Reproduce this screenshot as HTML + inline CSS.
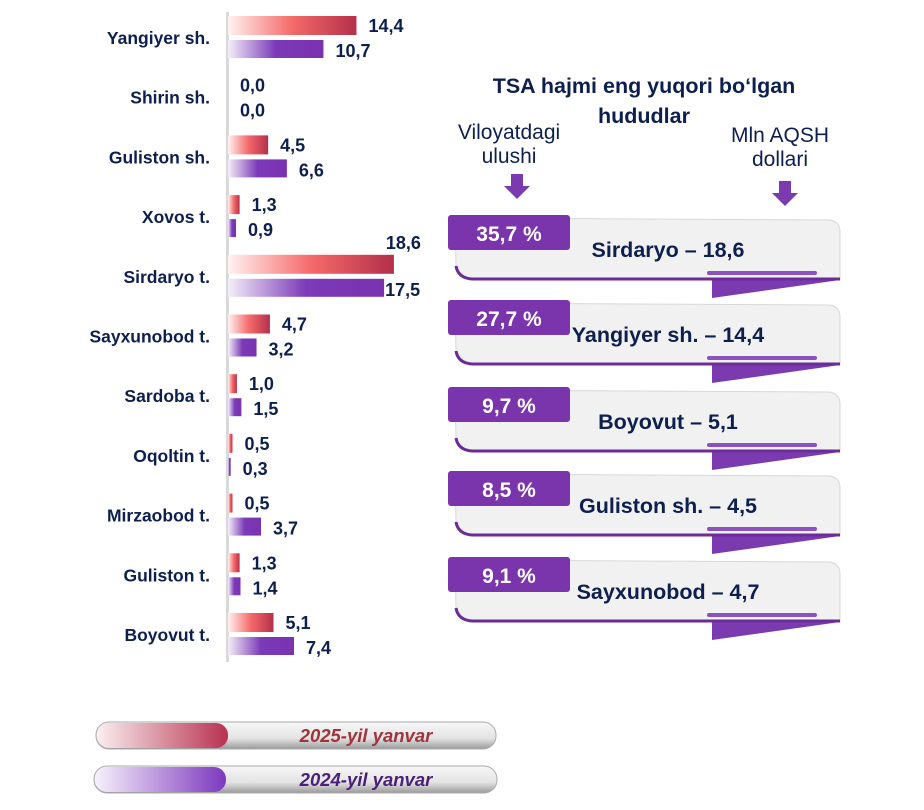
<!DOCTYPE html>
<html><head><meta charset="utf-8">
<style>
body{margin:0;background:#fff;width:924px;height:805px;overflow:hidden;font-family:"Liberation Sans",sans-serif}
svg text{font-family:"Liberation Sans",sans-serif}
</style></head>
<body>
<svg id="chart" width="924" height="805" xmlns="http://www.w3.org/2000/svg">
<defs>
<linearGradient id="gr" x1="0" x2="1"><stop offset="0" stop-color="#fff2f0"/><stop offset="0.5" stop-color="#f56a6a"/><stop offset="1" stop-color="#b3304a"/></linearGradient>
<linearGradient id="gp" x1="0" x2="1"><stop offset="0" stop-color="#f4eef8"/><stop offset="0.5" stop-color="#7b3ab8"/><stop offset="1" stop-color="#7a32b0"/></linearGradient>
<linearGradient id="lr" x1="0" x2="1"><stop offset="0" stop-color="#fbeef0"/><stop offset="1" stop-color="#b83250"/></linearGradient>
<linearGradient id="lp" x1="0" x2="1"><stop offset="0" stop-color="#f6f0fb"/><stop offset="1" stop-color="#7d38bf"/></linearGradient>
<linearGradient id="pill" x1="0" y1="0" x2="0" y2="1"><stop offset="0" stop-color="#f7f7f7"/><stop offset="0.6" stop-color="#e4e4e4"/><stop offset="1" stop-color="#9a9a9a"/></linearGradient>
</defs>
<rect x="226" y="12" width="3" height="650" fill="#d9d9d9"/>
<g id="bars"></g>
<text x="644" y="93" text-anchor="middle" font-size="21.5" font-weight="bold" fill="#0d1f4f">TSA hajmi eng yuqori bo‘lgan</text>
<text x="644" y="123" text-anchor="middle" font-size="21.5" font-weight="bold" fill="#0d1f4f">hududlar</text>
<text x="509" y="139" text-anchor="middle" font-size="21" fill="#0d1f4f">Viloyatdagi</text>
<text x="509" y="163" text-anchor="middle" font-size="21" fill="#0d1f4f">ulushi</text>
<text x="780" y="142" text-anchor="middle" font-size="21" fill="#0d1f4f">Mln AQSH</text>
<text x="780" y="166" text-anchor="middle" font-size="21" fill="#0d1f4f">dollari</text>
<path d="M511 174h12v12h7l-13 13-13-13h7z" fill="#7b3ab0"/>
<path d="M779 181h12v12h7l-13 13-13-13h7z" fill="#7b3ab0"/>
<g id="cards"></g>
<g>
<rect x="96" y="722" width="400" height="27" rx="13" fill="url(#pill)" stroke="#aaa"/>
<rect x="97" y="723" width="131" height="25" rx="12" fill="url(#lr)"/>
<text x="366" y="742" text-anchor="middle" font-size="18.5" font-weight="bold" font-style="italic" fill="#a0343a">2025-yil yanvar</text>
</g>
<g>
<rect x="94" y="766" width="403" height="27" rx="13" fill="url(#pill)" stroke="#aaa"/>
<rect x="95" y="767" width="131" height="25" rx="12" fill="url(#lp)"/>
<text x="366" y="786" text-anchor="middle" font-size="18.5" font-weight="bold" font-style="italic" fill="#4b2078">2024-yil yanvar</text>
</g>
</svg>
<script>
const categories=["Yangiyer sh.","Shirin sh.","Guliston sh.","Xovos t.","Sirdaryo t.","Sayxunobod t.","Sardoba t.","Oqoltin t.","Mirzaobod t.","Guliston t.","Boyovut t."];
const values2025=[14.4,0.0,4.5,1.3,18.6,4.7,1.0,0.5,0.5,1.3,5.1];
const values2024=[10.7,0.0,6.6,0.9,17.5,3.2,1.5,0.3,3.7,1.4,7.4];
const cardShares=["35,7 %","27,7 %","9,7 %","8,5 %","9,1 %"];
const cardNames=["Sirdaryo – 18,6","Yangiyer sh. – 14,4","Boyovut – 5,1","Guliston sh. – 4,5","Sayxunobod – 4,7"];
const NS="http://www.w3.org/2000/svg";
const x0=228,pxPerUnit=8.92;
function xs(v){return x0+v*pxPerUnit;}
function ys(i){return 38+i*59.7;}
function fmt(v){return v.toFixed(1).replace('.',',');}
function mk(tag,attrs,parent){const e=document.createElementNS(NS,tag);for(const k in attrs)e.setAttribute(k,attrs[k]);parent.appendChild(e);return e;}
const bars=document.getElementById('bars');
categories.forEach((c,i)=>{
  const y=ys(i);
  const t=mk('text',{x:210,y:y+6,'text-anchor':'end','font-size':17.5,'font-weight':'bold',fill:'#0d1f4f'},bars);
  
  
  t.textContent=c;
  const r=mk('rect',{x:x0,y:y-22,width:Math.max(0,xs(values2025[i])-x0),height:19,fill:'url(#gr)'},bars);
  
  
  const p=mk('rect',{x:x0,y:y+2,width:Math.max(0,xs(values2024[i])-x0),height:18,fill:'url(#gp)'},bars);
  
  
  const big=values2025[i]>16;
  const lr=mk('text',{x:big?xs(values2025[i])+27:xs(values2025[i])+12,y:big?y-28:y-6,'text-anchor':big?'end':'start','font-size':18,'font-weight':'bold',fill:'#0d1f4f'},bars);
  
  
  lr.textContent=fmt(values2025[i]);
  const lp=mk('text',{x:xs(values2024[i])+(values2024[i]>16?1:12),y:y+19,'font-size':18,'font-weight':'bold',fill:'#0d1f4f'},bars);
  
  
  lp.textContent=fmt(values2024[i]);
});
const cards=document.getElementById('cards');
const cardTops=[218,303,390,474,560];
cardNames.forEach((n,i)=>{
  const y=cardTops[i];
  const g=mk('g',{},cards);
  
  
  mk('path',{d:`M712 ${y+60} L840 ${y+62} L712 ${y+80} Z`,fill:'#7b3ab0'},g);
  mk('path',{d:`M455 ${y} L830 ${y+2} Q840 ${y+4} 840 ${y+14} L840 ${y+62} L470 ${y+62} Q457 ${y+60} 456 ${y+48} Z`,fill:'#f1f1f1',stroke:'#d8d8d8'},g);
  mk('path',{d:`M456 ${y+48} Q458 ${y+60} 472 ${y+61} L840 ${y+61}`,fill:'none',stroke:'#6a2d98','stroke-width':3},g);
  mk('rect',{x:707,y:y+53,width:110,height:4,rx:2,fill:'#8a52c0'},g);
  mk('rect',{x:448,y:y-3,width:122,height:35,rx:3,fill:'#7a34ac'},g);
  const s=mk('text',{x:509,y:y+23,'text-anchor':'middle','font-size':21,'font-weight':'bold',fill:'#fff'},g);
  
  
  s.textContent=cardShares[i];
  const tn=mk('text',{x:668,y:y+39,'text-anchor':'middle','font-size':21.5,'font-weight':'bold',fill:'#0d1f4f'},g);
  
  
  tn.textContent=n;
});
</script>
</body></html>
